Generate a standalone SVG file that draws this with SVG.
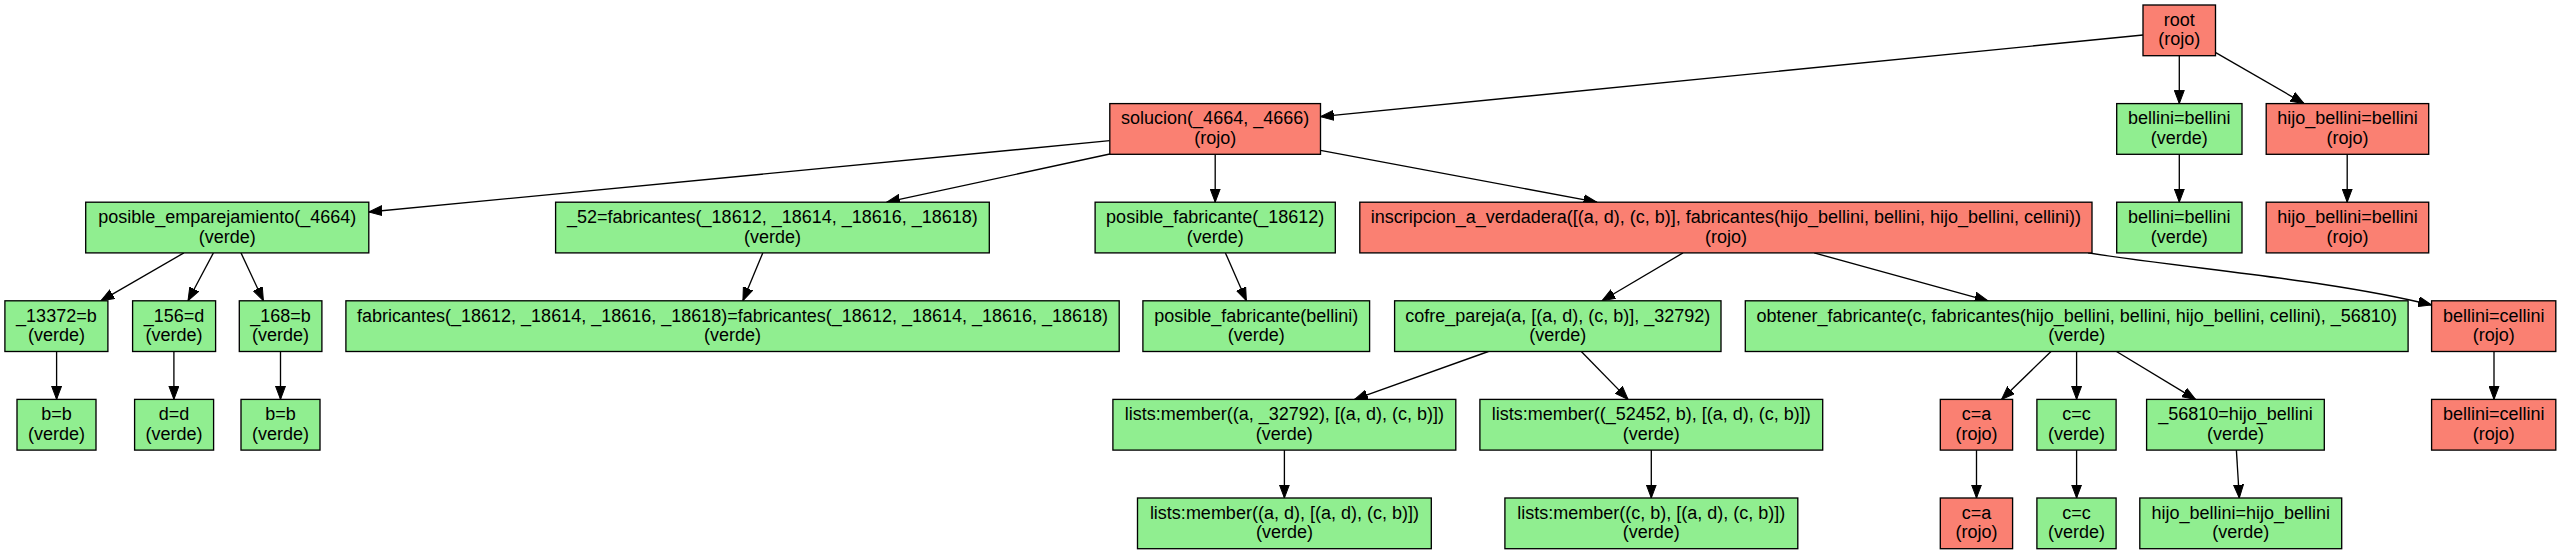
<svg xmlns="http://www.w3.org/2000/svg" width="2561" height="555" viewBox="0 0 2561 555">
<style>
.rojo{fill:#fa8072;stroke:#000;stroke-width:1.33}
.verde{fill:#90ee90;stroke:#000;stroke-width:1.33}
text{font-family:"Liberation Sans",Arial,sans-serif;font-size:18px;fill:#000;text-anchor:middle}
.e{fill:none;stroke:#000;stroke-width:1.33;marker-end:url(#ah)}
</style>
<defs>
<marker id="ah" markerUnits="userSpaceOnUse" markerWidth="14" markerHeight="11" refX="13.3" refY="5" orient="auto" viewBox="0 0 14 10">
<path d="M0,0 L13.3,5 L0,10 z" fill="#000" stroke="#000" stroke-width="1"/>
</marker>
</defs>
<rect width="2561" height="555" fill="#fff"/>
<g id="edges">
<path class="e" d="M2143,35 L1320.5,116.7"/>
<path class="e" d="M2179.3,55.7 L2179.3,103.6"/>
<path class="e" d="M2215.3,52.3 L2304,103.6"/>
<path class="e" d="M1109.8,140.7 L368.8,212"/>
<path class="e" d="M1109.8,154 L886.7,202.2"/>
<path class="e" d="M1215.2,154.3 L1215.2,202.2"/>
<path class="e" d="M1320.5,150.3 L1596.9,202.2"/>
<path class="e" d="M2179.3,154.3 L2179.3,202.2"/>
<path class="e" d="M2347.2,154.3 L2347.2,202.2"/>
<path class="e" d="M183.9,252.9 L100.9,300.8"/>
<path class="e" d="M213.4,252.9 L188,300.8"/>
<path class="e" d="M241,252.9 L263.4,300.8"/>
<path class="e" d="M56.6,351.5 L56.6,399.4"/>
<path class="e" d="M173.9,351.5 L173.9,399.4"/>
<path class="e" d="M280.5,351.5 L280.5,399.4"/>
<path class="e" d="M762.8,252.9 L742.9,300.8"/>
<path class="e" d="M1225.4,252.9 L1246.4,300.8"/>
<path class="e" d="M1683,252.9 L1602,300.8"/>
<path class="e" d="M1814.2,252.9 L1988,300.8"/>
<path class="e" d="M2088,252.9 C2200,270 2330,280 2431.6,305"/>
<path class="e" d="M1488.4,351.5 L1354.5,399.4"/>
<path class="e" d="M1581.3,351.5 L1628.1,399.4"/>
<path class="e" d="M1284.4,450.1 L1284.4,498"/>
<path class="e" d="M1651.3,450.1 L1651.3,498"/>
<path class="e" d="M2051,351.5 L2001.5,399.4"/>
<path class="e" d="M2076.6,351.5 L2076.6,399.4"/>
<path class="e" d="M2116.5,351.5 L2195.6,399.4"/>
<path class="e" d="M1976.5,450.1 L1976.5,498"/>
<path class="e" d="M2076.6,450.1 L2076.6,498"/>
<path class="e" d="M2236.4,450.1 L2239.3,498"/>
<path class="e" d="M2494,351.5 L2494,399.4"/>
</g>
<g id="root"><rect class="rojo" x="2143" y="5" width="72.5" height="50.7"/><text x="2179.25" y="25.85">root</text><text x="2179.25" y="45.35">(rojo)</text></g>
<g id="solucion"><rect class="rojo" x="1109.8" y="103.6" width="210.7" height="50.7"/><text x="1215.15" y="124.45">solucion(_4664, _4666)</text><text x="1215.15" y="143.95">(rojo)</text></g>
<g id="bellini1"><rect class="verde" x="2116.7" y="103.6" width="125.3" height="50.7"/><text x="2179.35" y="124.45">bellini=bellini</text><text x="2179.35" y="143.95">(verde)</text></g>
<g id="hijo1"><rect class="rojo" x="2266.2" y="103.6" width="162.5" height="50.7"/><text x="2347.45" y="124.45">hijo_bellini=bellini</text><text x="2347.45" y="143.95">(rojo)</text></g>
<g id="posible_emparejamiento"><rect class="verde" x="85.7" y="202.2" width="283.1" height="50.7"/><text x="227.25" y="223.05">posible_emparejamiento(_4664)</text><text x="227.25" y="242.55">(verde)</text></g>
<g id="n52"><rect class="verde" x="555.6" y="202.2" width="433.7" height="50.7"/><text x="772.45" y="223.05">_52=fabricantes(_18612, _18614, _18616, _18618)</text><text x="772.45" y="242.55">(verde)</text></g>
<g id="posible_fabricante1"><rect class="verde" x="1095.1" y="202.2" width="240.2" height="50.7"/><text x="1215.2" y="223.05">posible_fabricante(_18612)</text><text x="1215.2" y="242.55">(verde)</text></g>
<g id="inscripcion"><rect class="rojo" x="1359.8" y="202.2" width="732.2" height="50.7"/><text x="1725.9" y="223.05">inscripcion_a_verdadera([(a, d), (c, b)], fabricantes(hijo_bellini, bellini, hijo_bellini, cellini))</text><text x="1725.9" y="242.55">(rojo)</text></g>
<g id="bellini2"><rect class="verde" x="2116.7" y="202.2" width="125.3" height="50.7"/><text x="2179.35" y="223.05">bellini=bellini</text><text x="2179.35" y="242.55">(verde)</text></g>
<g id="hijo2"><rect class="rojo" x="2266.2" y="202.2" width="162.5" height="50.7"/><text x="2347.45" y="223.05">hijo_bellini=bellini</text><text x="2347.45" y="242.55">(rojo)</text></g>
<g id="n13372"><rect class="verde" x="4.9" y="300.8" width="103" height="50.7"/><text x="56.4" y="321.65">_13372=b</text><text x="56.4" y="341.15">(verde)</text></g>
<g id="n156"><rect class="verde" x="132.6" y="300.8" width="83" height="50.7"/><text x="174.1" y="321.65">_156=d</text><text x="174.1" y="341.15">(verde)</text></g>
<g id="n168"><rect class="verde" x="239.3" y="300.8" width="82.6" height="50.7"/><text x="280.6" y="321.65">_168=b</text><text x="280.6" y="341.15">(verde)</text></g>
<g id="fabeq"><rect class="verde" x="345.9" y="300.8" width="773.3" height="50.7"/><text x="732.55" y="321.65">fabricantes(_18612, _18614, _18616, _18618)=fabricantes(_18612, _18614, _18616, _18618)</text><text x="732.55" y="341.15">(verde)</text></g>
<g id="posible_fabricante2"><rect class="verde" x="1142.9" y="300.8" width="226.7" height="50.7"/><text x="1256.25" y="321.65">posible_fabricante(bellini)</text><text x="1256.25" y="341.15">(verde)</text></g>
<g id="cofre"><rect class="verde" x="1394.6" y="300.8" width="326.4" height="50.7"/><text x="1557.8" y="321.65">cofre_pareja(a, [(a, d), (c, b)], _32792)</text><text x="1557.8" y="341.15">(verde)</text></g>
<g id="obtener"><rect class="verde" x="1745.3" y="300.8" width="662.8" height="50.7"/><text x="2076.7" y="321.65">obtener_fabricante(c, fabricantes(hijo_bellini, bellini, hijo_bellini, cellini), _56810)</text><text x="2076.7" y="341.15">(verde)</text></g>
<g id="bc3"><rect class="rojo" x="2431.6" y="300.8" width="124.2" height="50.7"/><text x="2493.7" y="321.65">bellini=cellini</text><text x="2493.7" y="341.15">(rojo)</text></g>
<g id="bb1"><rect class="verde" x="17" y="399.4" width="79" height="50.7"/><text x="56.5" y="420.25">b=b</text><text x="56.5" y="439.75">(verde)</text></g>
<g id="dd"><rect class="verde" x="134.6" y="399.4" width="79" height="50.7"/><text x="174.1" y="420.25">d=d</text><text x="174.1" y="439.75">(verde)</text></g>
<g id="bb2"><rect class="verde" x="241" y="399.4" width="79" height="50.7"/><text x="280.5" y="420.25">b=b</text><text x="280.5" y="439.75">(verde)</text></g>
<g id="lm1"><rect class="verde" x="1112.9" y="399.4" width="342.9" height="50.7"/><text x="1284.35" y="420.25">lists:member((a, _32792), [(a, d), (c, b)])</text><text x="1284.35" y="439.75">(verde)</text></g>
<g id="lm2"><rect class="verde" x="1479.9" y="399.4" width="342.8" height="50.7"/><text x="1651.3" y="420.25">lists:member((_52452, b), [(a, d), (c, b)])</text><text x="1651.3" y="439.75">(verde)</text></g>
<g id="ca4"><rect class="rojo" x="1940.3" y="399.4" width="72.3" height="50.7"/><text x="1976.45" y="420.25">c=a</text><text x="1976.45" y="439.75">(rojo)</text></g>
<g id="cc4"><rect class="verde" x="2036.9" y="399.4" width="79.2" height="50.7"/><text x="2076.5" y="420.25">c=c</text><text x="2076.5" y="439.75">(verde)</text></g>
<g id="n56810"><rect class="verde" x="2146.6" y="399.4" width="177.7" height="50.7"/><text x="2235.45" y="420.25">_56810=hijo_bellini</text><text x="2235.45" y="439.75">(verde)</text></g>
<g id="bc4"><rect class="rojo" x="2431.6" y="399.4" width="124.2" height="50.7"/><text x="2493.7" y="420.25">bellini=cellini</text><text x="2493.7" y="439.75">(rojo)</text></g>
<g id="lmad"><rect class="verde" x="1137.5" y="498" width="293.8" height="50.7"/><text x="1284.4" y="518.85">lists:member((a, d), [(a, d), (c, b)])</text><text x="1284.4" y="538.35">(verde)</text></g>
<g id="lmcb"><rect class="verde" x="1504.9" y="498" width="292.9" height="50.7"/><text x="1651.35" y="518.85">lists:member((c, b), [(a, d), (c, b)])</text><text x="1651.35" y="538.35">(verde)</text></g>
<g id="ca5"><rect class="rojo" x="1940.3" y="498" width="72.3" height="50.7"/><text x="1976.45" y="518.85">c=a</text><text x="1976.45" y="538.35">(rojo)</text></g>
<g id="cc5"><rect class="verde" x="2036.9" y="498" width="79.2" height="50.7"/><text x="2076.5" y="518.85">c=c</text><text x="2076.5" y="538.35">(verde)</text></g>
<g id="hbhb"><rect class="verde" x="2139.8" y="498" width="201.9" height="50.7"/><text x="2240.75" y="518.85">hijo_bellini=hijo_bellini</text><text x="2240.75" y="538.35">(verde)</text></g>
</svg>
